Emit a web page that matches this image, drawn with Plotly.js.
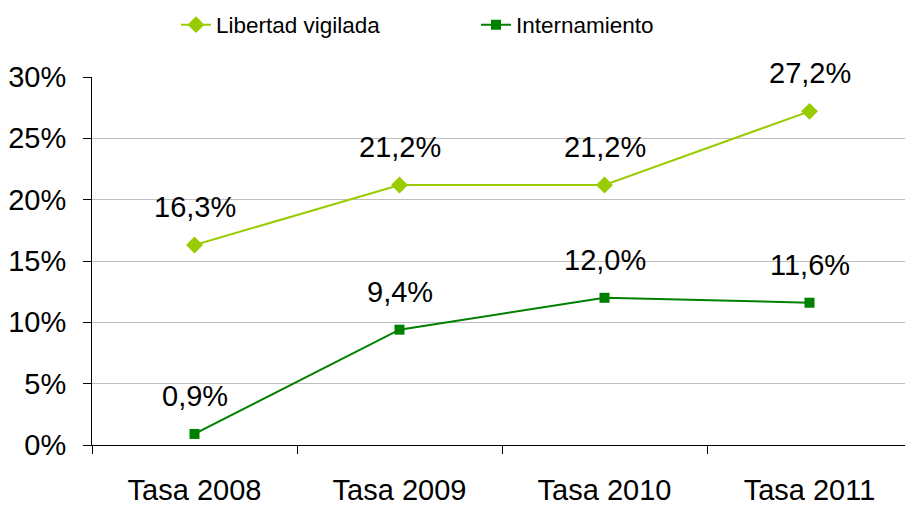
<!DOCTYPE html>
<html>
<head>
<meta charset="utf-8">
<script src="https://cdn.plot.ly/plotly-3.0.1.min.js"></script>
<style>html,body{margin:0;padding:0;background:#fff;}#chart{width:905px;height:506px;}</style>
</head>
<body>
<div id="chart"></div>
<script>
const categories = ["Tasa 2008", "Tasa 2009", "Tasa 2010", "Tasa 2011"];
const libertadVigilada = [16.3, 21.2, 21.2, 27.2];
const internamiento = [0.9, 9.4, 12.0, 11.6];
const seriesNames = ["Libertad vigilada", "Internamiento"];

const fmt = v => v.toFixed(1).replace('.', ',') + '%';
const FONT = '"Liberation Sans", Arial, sans-serif';

const traces = [
  {
    x: categories, y: libertadVigilada, name: seriesNames[0], type: 'scatter', mode: 'lines+markers',
    line: {color: '#99CC00', width: 2}, marker: {symbol: 'diamond', size: 13, color: '#99CC00'},
    legend: 'legend', hoverinfo: 'skip'
  },
  {
    x: categories, y: internamiento, name: seriesNames[1], type: 'scatter', mode: 'lines+markers',
    line: {color: '#008000', width: 2}, marker: {symbol: 'square', size: 10, color: '#008000'},
    legend: 'legend2', hoverinfo: 'skip'
  }
];

const annotations = [];
[libertadVigilada, internamiento].forEach(series => {
  series.forEach((v, i) => {
    annotations.push({
      x: categories[i], y: v, xref: 'x', yref: 'y', text: fmt(v), showarrow: false,
      yshift: 38, yanchor: 'middle', xanchor: 'center',
      font: {family: FONT, size: 29, color: '#000'}
    });
  });
});

const plotW = 905 - 92;
const catW = 205;

const layout = {
  width: 905, height: 506,
  margin: {l: 92, r: 0, t: 77, b: 61, pad: 0},
  paper_bgcolor: '#fff', plot_bgcolor: '#fff',
  showlegend: true,
  font: {family: FONT, size: 29, color: '#000'},
  xaxis: {
    type: 'category', range: [-0.5, -0.5 + plotW / catW],
    showgrid: false, showline: true, linecolor: '#000', linewidth: 1,
    ticks: 'outside', tickson: 'boundaries', ticklen: 8, tickcolor: '#000',
    tickfont: {family: FONT, size: 29, color: '#000'}, ticklabelstandoff: 19,
    zeroline: false, fixedrange: true
  },
  yaxis: {
    range: [0, 30], dtick: 5, tick0: 0, ticksuffix: '%',
    showgrid: true, gridcolor: '#BFBFBF', gridwidth: 1,
    showline: true, linecolor: '#000', linewidth: 1,
    ticks: 'outside', ticklen: 8, tickcolor: '#000',
    tickfont: {family: FONT, size: 29, color: '#000'}, ticklabelstandoff: 11,
    zeroline: false, fixedrange: true
  },
  legend: {
    x: (176 - 92) / plotW, y: (445 - 25) / 368, xanchor: 'left', yanchor: 'middle',
    orientation: 'h', font: {family: FONT, size: 22.5, color: '#000'}, bgcolor: 'rgba(0,0,0,0)'
  },
  legend2: {
    x: (476 - 92) / plotW, y: (445 - 25) / 368, xanchor: 'left', yanchor: 'middle',
    orientation: 'h', font: {family: FONT, size: 22.5, color: '#000'}, bgcolor: 'rgba(0,0,0,0)'
  },
  annotations: annotations
};

Plotly.newPlot('chart', traces, layout, {displayModeBar: false, staticPlot: true});
</script>
</body>
</html>
